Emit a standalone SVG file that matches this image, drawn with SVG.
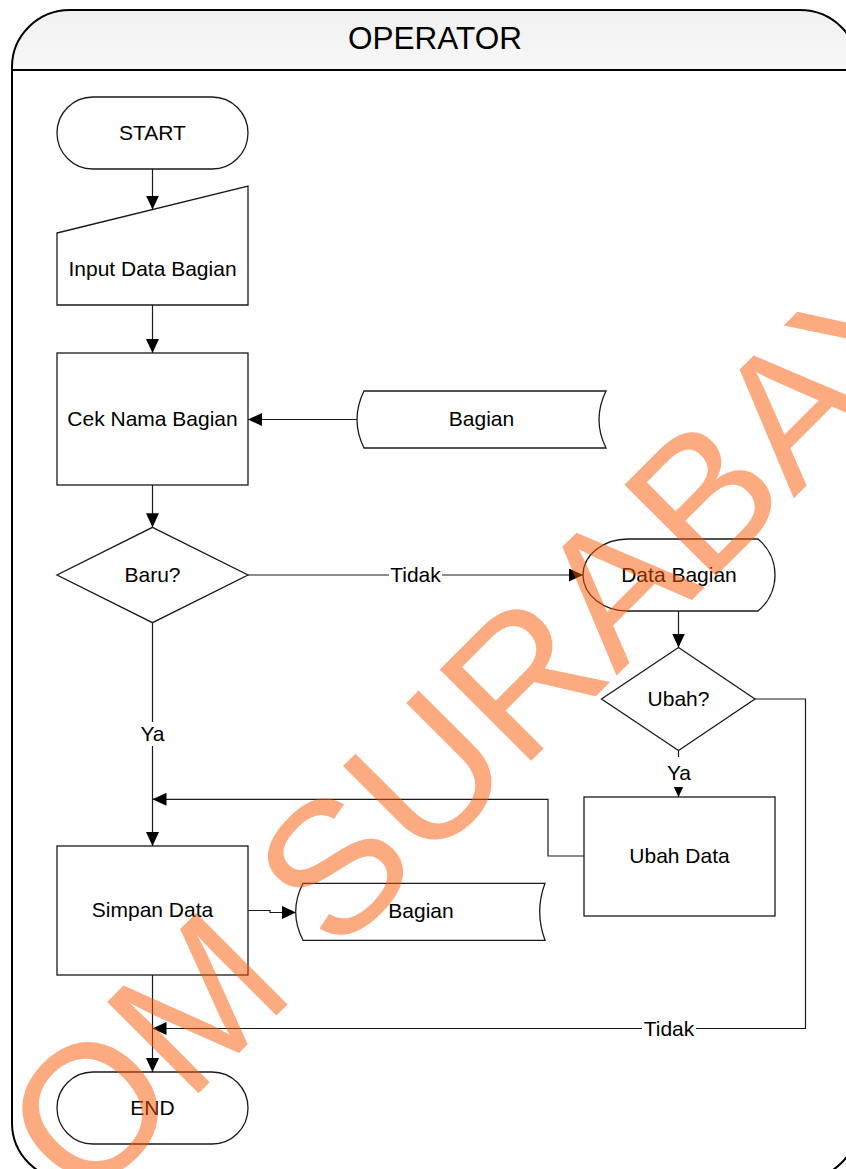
<svg xmlns="http://www.w3.org/2000/svg" width="846" height="1169" viewBox="0 0 846 1169">
<defs>
<marker id="arr" viewBox="0 0 14 13" refX="14" refY="6.5" markerWidth="14" markerHeight="13" markerUnits="userSpaceOnUse" orient="auto"><path d="M0,0 L14,6.5 L0,13 z" fill="#000"/></marker>
<linearGradient id="hdr" x1="0" y1="0" x2="0" y2="1"><stop offset="0" stop-color="#f0f0f0"/><stop offset="1" stop-color="#f8f8f8"/></linearGradient>
</defs>
<style>
.sh{fill:#fff;stroke:#1a1a1a;stroke-width:1.3}
.t{font-family:"Liberation Sans",Arial,sans-serif;font-size:21px;fill:#000;text-anchor:middle}
.c{fill:none;stroke:#1a1a1a;stroke-width:1.2}
.lb{fill:#fff}
</style>
<rect width="846" height="1169" fill="#fff"/>
<g id="lane">
<path d="M12,70 V67 A58,57 0 0 1 70,10 H800 A58,57 0 0 1 858,67 V70 Z" fill="url(#hdr)"/>
<path d="M12,67 A58,57 0 0 1 70,10 H800 A58,57 0 0 1 858,67 V1123 A58,57 0 0 1 800,1180 H70 A58,57 0 0 1 12,1123 Z" fill="none" stroke="#000" stroke-width="2"/>
<line x1="12" y1="70" x2="858" y2="70" stroke="#000" stroke-width="2"/>
<text x="435" y="49" style="font-family:'Liberation Sans',Arial,sans-serif;font-size:31.5px;text-anchor:middle">OPERATOR</text>
</g>
<g id="start"><rect class="sh" x="57" y="97" width="191" height="72" rx="36" ry="36"/><text class="t" x="152.5" y="140">START</text></g>
<g id="input"><path class="sh" d="M57,233 L248,186 L248,305 L57,305 Z"/><text class="t" x="152.5" y="276">Input Data Bagian</text></g>
<g id="cek"><rect class="sh" x="57" y="353" width="191" height="132"/><text class="t" x="152.5" y="426">Cek Nama Bagian</text></g>
<g id="bagian1"><path class="sh" d="M364,391 H606 Q592,419.5 606,448 H364 Q350,419.5 364,391 Z"/><text class="t" x="481.5" y="426">Bagian</text></g>
<g id="baru"><path class="sh" d="M152.5,527.3 L248,575 L152.5,622.7 L57,575 Z"/><text class="t" x="152.5" y="582">Baru?</text></g>
<g id="databagian"><path class="sh" d="M628,539 H758 A46.6,46.6 0 0 1 758,611 H628 A45,36 0 0 1 628,539 Z"/><text class="t" x="679" y="582">Data Bagian</text></g>
<g id="ubah"><path class="sh" d="M678.5,647.5 L755,699 L678.5,750.5 L601.5,699 Z"/><text class="t" x="678.5" y="705.5">Ubah?</text></g>
<g id="ubahdata"><rect class="sh" x="584" y="797" width="191" height="119"/><text class="t" x="679.5" y="863">Ubah Data</text></g>
<g id="simpan"><rect class="sh" x="57" y="846" width="191" height="129"/><text class="t" x="152.5" y="917">Simpan Data</text></g>
<g id="bagian2"><path class="sh" d="M303,883.3 H545 Q534.4,911.8 545,940.3 H303 Q288.4,911.8 303,883.3 Z"/><text class="t" x="421" y="918">Bagian</text></g>
<g id="end"><rect class="sh" x="57" y="1072" width="191" height="72" rx="36" ry="36"/><text class="t" x="152.5" y="1115">END</text></g>
<g id="connectors">
<path class="c" d="M152.5,169 V209.6" marker-end="url(#arr)"/>
<path class="c" d="M152.5,305 V353" marker-end="url(#arr)"/>
<path class="c" d="M357,419.5 H248" marker-end="url(#arr)"/>
<path class="c" d="M152.5,485 V527.3" marker-end="url(#arr)"/>
<path class="c" d="M248,575 H583" marker-end="url(#arr)"/>
<path class="c" d="M678.5,611 V647.5" marker-end="url(#arr)"/>
<path class="c" d="M678.5,750.5 V797" marker-end="url(#arr)"/>
<path class="c" d="M755,699 H805.5 V1028.5 H152.5" marker-end="url(#arr)"/>
<path class="c" d="M584,856 H548 V799.3 H152.5" marker-end="url(#arr)"/>
<path class="c" d="M152.5,622.7 V846" marker-end="url(#arr)"/>
<path class="c" d="M248,910.5 H270 V912.5 H296" marker-end="url(#arr)"/>
<path class="c" d="M152.5,975 V1072" marker-end="url(#arr)"/>
<rect class="lb" x="389" y="564" width="53" height="22"/><text class="t" x="415.5" y="582">Tidak</text>
<rect class="lb" x="665" y="757" width="28" height="30"/><text class="t" x="679" y="779.5">Ya</text>
<rect class="lb" x="139" y="722" width="27" height="24"/><text class="t" x="152.5" y="741">Ya</text>
<rect class="lb" x="642" y="1018" width="54" height="22"/><text class="t" x="669" y="1036">Tidak</text>
</g>
<g id="watermark">
<text transform="translate(-211,1503) rotate(-45)" style="font-family:'Liberation Sans',Arial,sans-serif;font-size:188px;fill:#fa5500;fill-opacity:0.5">STIKOM SURABAYA</text>
</g>
</svg>
